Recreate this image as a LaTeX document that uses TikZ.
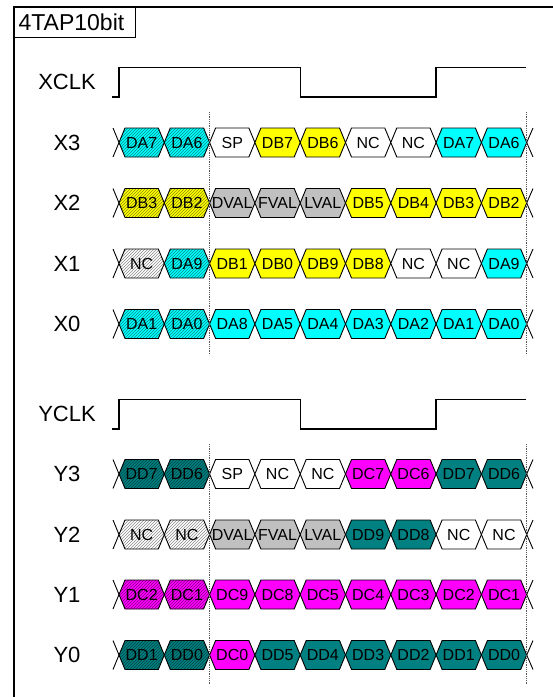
\documentclass[tikz,border=0pt]{standalone}
\usepackage{fontspec}
\setmainfont{Liberation Sans}
\usetikzlibrary{patterns}

\definecolor{valgray}{RGB}{192,192,192}
\definecolor{dacyan}{RGB}{0,255,255}
\definecolor{dbyellow}{RGB}{255,255,0}
\definecolor{dcmagenta}{RGB}{255,0,255}
\definecolor{ddteal}{RGB}{0,128,128}
\definecolor{ncwhite}{RGB}{255,255,255}

\tikzset{
  frameline/.style={line width=1.2pt},
  titlebox/.style={draw, line width=1.2pt, anchor=north west,
    minimum height=30pt, text width=113pt, inner xsep=4pt, align=left,
    font=\fontsize{23}{26}\selectfont},
  siglbl/.style={font=\fontsize{22}{26}\selectfont},
  clkline/.style={line width=1.2pt},
  cellbox/.style={draw=black, line width=0.9pt, fill=#1},
  hatchbox/.style={draw=black, line width=0.9pt, preaction={fill=#1},
    preaction={pattern=north east lines, pattern color=#1!55!black}},
  celltxt/.style={font=\fontsize{16}{18}\selectfont, inner sep=0pt},
  markline/.style={densely dotted, line width=0.8pt, black!65}
}

\begin{document}
\begin{tikzpicture}[x=1pt,y=-1pt]

\useasboundingbox
(0,0)
rectangle
(553,697);

% frame and title
\draw[frameline]
(14,697)
--
(14,7)
--
(553,7);

\node[titlebox]
(title)
at (14,7)
{4TAP10bit};

% clocks
\node[siglbl]
(xclk)
at (67,82)
{XCLK};

\draw[clkline]
(112,97) -- (119,97) -- (119,67.5) -- (300.5,67.5)
-- (300.5,97) -- (436,97) -- (436,67.5) -- (526,67.5);

\node[siglbl]
(yclk)
at (67,414)
{YCLK};

\draw[clkline]
(112,429) -- (119,429) -- (119,399.5) -- (300.5,399.5)
-- (300.5,429) -- (436,429) -- (436,399.5) -- (526,399.5);

% data lanes
\foreach \row/\lbl/\yc/\cells in {
  x3/X3/142.5/{DA7/dacyan,DA6/dacyan,SP/ncwhite,DB7/dbyellow,DB6/dbyellow,NC/ncwhite,NC/ncwhite,DA7/dacyan,DA6/dacyan},
  x2/X2/203/{DB3/dbyellow,DB2/dbyellow,DVAL/valgray,FVAL/valgray,LVAL/valgray,DB5/dbyellow,DB4/dbyellow,DB3/dbyellow,DB2/dbyellow},
  x1/X1/263.5/{NC/ncwhite,DA9/dacyan,DB1/dbyellow,DB0/dbyellow,DB9/dbyellow,DB8/dbyellow,NC/ncwhite,NC/ncwhite,DA9/dacyan},
  x0/X0/324/{DA1/dacyan,DA0/dacyan,DA8/dacyan,DA5/dacyan,DA4/dacyan,DA3/dacyan,DA2/dacyan,DA1/dacyan,DA0/dacyan},
  y3/Y3/474/{DD7/ddteal,DD6/ddteal,SP/ncwhite,NC/ncwhite,NC/ncwhite,DC7/dcmagenta,DC6/dcmagenta,DD7/ddteal,DD6/ddteal},
  y2/Y2/534.5/{NC/ncwhite,NC/ncwhite,DVAL/valgray,FVAL/valgray,LVAL/valgray,DD9/ddteal,DD8/ddteal,NC/ncwhite,NC/ncwhite},
  y1/Y1/594.5/{DC2/dcmagenta,DC1/dcmagenta,DC9/dcmagenta,DC8/dcmagenta,DC5/dcmagenta,DC4/dcmagenta,DC3/dcmagenta,DC2/dcmagenta,DC1/dcmagenta},
  y0/Y0/655/{DD1/ddteal,DD0/ddteal,DC0/dcmagenta,DD5/ddteal,DD4/ddteal,DD3/ddteal,DD2/ddteal,DD1/ddteal,DD0/ddteal}}
{
  \node[siglbl] (lbl-\row) at (67,\yc) {\lbl};
  \draw[line width=0.9pt] (113,\yc-14.5) -- (119,\yc) -- (113,\yc+14.5);
  \draw[line width=0.9pt] (533,\yc-14.5) -- (526.7,\yc) -- (533,\yc+14.5);
  \foreach \txt/\col [count=\k from 0] in \cells {
    \pgfmathsetmacro\xa{119+45.3*\k}
    \pgfmathsetmacro\xb{\xa+45.3}
    \ifnum\k<2
      \tikzset{cur/.style={hatchbox=\col}}
    \else
      \tikzset{cur/.style={cellbox=\col}}
    \fi
    \draw[cur] (\xa,\yc) -- (\xa+6,\yc-14.5) -- (\xb-6,\yc-14.5)
      -- (\xb,\yc) -- (\xb-6,\yc+14.5) -- (\xa+6,\yc+14.5) -- cycle;
    \node[celltxt] (\row-\k) at (\xa+22.65,\yc) {\txt};
  }
}

% frame markers
\foreach \xm in {209.6,526.7} {
  \draw[markline] (\xm,112) -- (\xm,355);
  \draw[markline] (\xm,444) -- (\xm,685);
}

\end{tikzpicture}
\end{document}
